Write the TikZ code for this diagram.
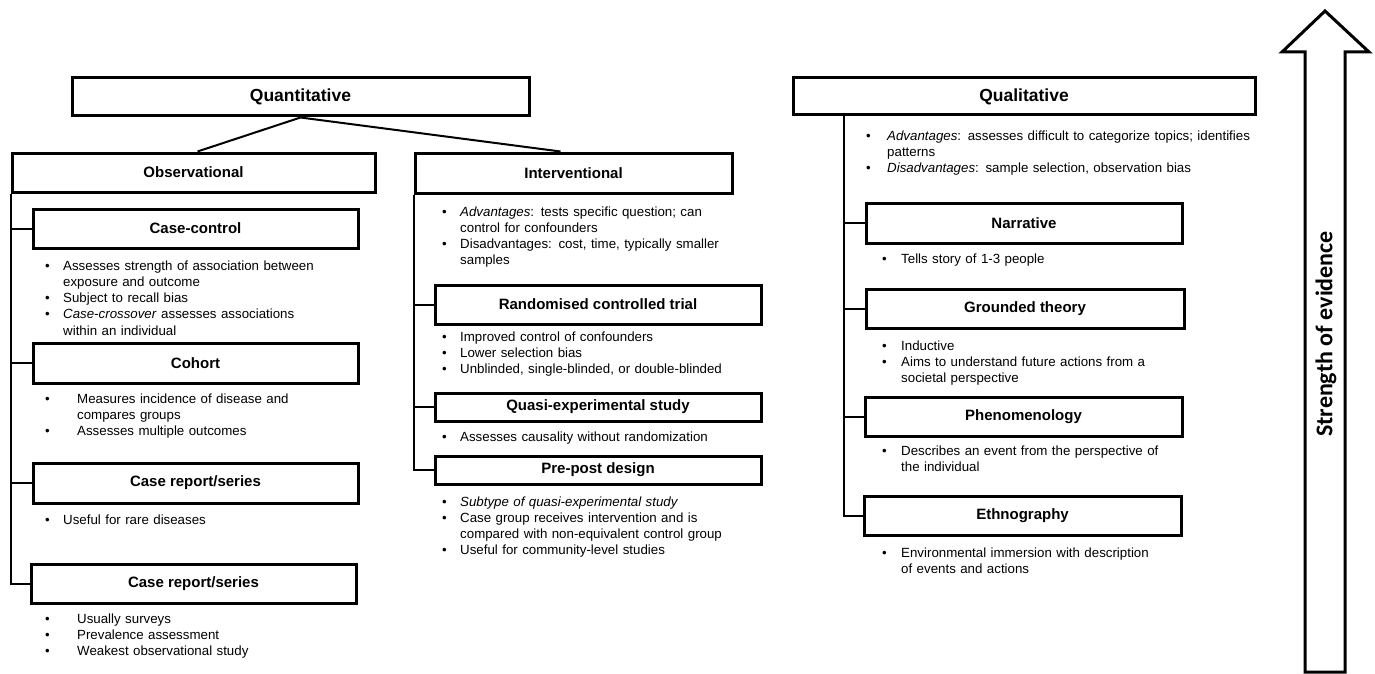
\documentclass[tikz,border=0pt]{standalone}
\usepackage{fontspec}
\setmainfont{Liberation Sans}
\newfontfamily\arrowfont{Carlito}
\newcommand{\bi}[2]{{\hangindent=#1\hangafter=1\noindent\makebox[#1][l]{\textbullet}#2\par}}
\tikzset{
  box/.style={draw, line width=3pt, fill=white, inner sep=0pt, font=\fontsize{15}{17}\selectfont\bfseries},
  topbox/.style={box, font=\fontsize{17.5}{20}\selectfont\bfseries},
  txt/.style={anchor=base west, inner sep=0pt, text width=430pt, align=left, font=\fontsize{13.3}{16.3}\selectfont},
  conn/.style={line width=2pt},
}
\begin{document}
\begin{tikzpicture}[x=1pt,y=-1pt]
\useasboundingbox (0,0) rectangle (1375,674);
% Quantitative
\node[topbox, minimum width=457pt, minimum height=38pt] (quant) at (300.5,97) {Quantitative};
\node[box, minimum width=363pt, minimum height=39pt] (obs) at (193.5,172.5) {Observational};
\node[box, minimum width=317pt, minimum height=40pt] (interv) at (573.5,173) {Interventional};
\draw[conn] (quant.south) -- ([xshift=4pt]obs.north);
\draw[conn] (quant.south) -- ([xshift=-13pt]interv.north);
% Observational children
\node[box, minimum width=325pt, minimum height=39pt] (cc) at (195.5,228.5) {Case-control};
\node[box, minimum width=325pt, minimum height=40pt] (coh) at (195.5,363) {Cohort};
\node[box, minimum width=325pt, minimum height=40pt] (cr1) at (195.5,483) {Case report/series};
\node[box, minimum width=325pt, minimum height=39pt] (cr2) at (193.5,583.5) {Case report/series};
\draw[conn] (obs.south west) |- (cc.west);
\draw[conn] (obs.south west) |- (coh.west);
\draw[conn] (obs.south west) |- (cr1.west);
\draw[conn] (obs.south west) |- (cr2.west);
\node[txt] (cct) at (45,270) {\bi{18pt}{Assesses strength of association between\newline exposure and outcome}\bi{18pt}{Subject to recall bias}\bi{18pt}{\textit{Case-crossover} assesses associations\newline within an individual}};
\node[txt] (coht) at (45,403) {\bi{32pt}{Measures incidence of disease and\newline compares groups}\bi{32pt}{Assesses multiple outcomes}};
\node[txt] (cr1t) at (45,524) {\bi{18pt}{Useful for rare diseases}};
\node[txt] (cr2t) at (45,623) {\bi{32pt}{Usually surveys}\bi{32pt}{Prevalence assessment}\bi{32pt}{Weakest observational study}};
% Interventional children
\node[box, minimum width=326pt, minimum height=39pt] (rct) at (598,304.5) {Randomised controlled trial};
\node[box, minimum width=326pt, minimum height=28pt] (quasi) at (598,407) {Quasi-experimental study};
\node[box, minimum width=326pt, minimum height=28pt] (pp) at (598,470) {Pre-post design};
\draw[conn] (interv.south west) |- (rct.west);
\draw[conn] (interv.south west) |- (quasi.west);
\draw[conn] (interv.south west) |- (pp.west);
\node[txt] (intt) at (442,216) {\bi{18pt}{\textit{Advantages}: tests specific question; can\newline control for confounders}\bi{18pt}{Disadvantages: cost, time, typically smaller\newline samples}};
\node[txt] (rctt) at (442,341) {\bi{18pt}{Improved control of confounders}\bi{18pt}{Lower selection bias}\bi{18pt}{Unblinded, single-blinded, or double-blinded}};
\node[txt] (quasit) at (442,441) {\bi{18pt}{Assesses causality without randomization}};
\node[txt] (ppt) at (442,506) {\bi{18pt}{\textit{Subtype of quasi-experimental study}}\bi{18pt}{Case group receives intervention and is\newline compared with non-equivalent control group}\bi{18pt}{Useful for community-level studies}};
% Qualitative
\node[topbox, minimum width=462pt, minimum height=37pt] (qual) at (1024,96.5) {Qualitative};
\coordinate (qtop) at ([xshift=52pt]qual.south west);
\node[box, minimum width=316pt, minimum height=40pt] (nar) at (1024,223) {Narrative};
\node[box, minimum width=318pt, minimum height=39pt] (gt) at (1025,308.5) {Grounded theory};
\node[box, minimum width=317pt, minimum height=39pt] (phen) at (1023.5,416.5) {Phenomenology};
\node[box, minimum width=317pt, minimum height=39pt] (eth) at (1022.5,515.5) {Ethnography};
\draw[conn] (qtop) |- (nar.west);
\draw[conn] (qtop) |- (gt.west);
\draw[conn] (qtop) |- (phen.west);
\draw[conn] (qtop) |- (eth.west);
\node[txt] (qualt) at (866,140) {\bi{21pt}{\textit{Advantages}: assesses difficult to categorize topics; identifies\newline patterns}\bi{21pt}{\textit{Disadvantages}: sample selection, observation bias}};
\node[txt] (nart) at (882,263) {\bi{19pt}{Tells story of 1-3 people}};
\node[txt] (gtt) at (882,350) {\bi{19pt}{Inductive}\bi{19pt}{Aims to understand future actions from a\newline societal perspective}};
\node[txt] (phent) at (882,455) {\bi{19pt}{Describes an event from the perspective of\newline the individual}};
\node[txt] (etht) at (882,557) {\bi{19pt}{Environmental immersion with description\newline of events and actions}};
% Strength of evidence arrow
\draw[line width=3pt, line join=miter, fill=white] (1305,672) -- (1305,52) -- (1282,52) -- (1325,11) -- (1369,52) -- (1345,52) -- (1345,672) -- cycle;
\node[rotate=90, inner sep=0pt, font=\arrowfont\fontsize{24}{28}\selectfont\bfseries] (soe) at (1326,334) {Strength of evidence};
\end{tikzpicture}
\end{document}
